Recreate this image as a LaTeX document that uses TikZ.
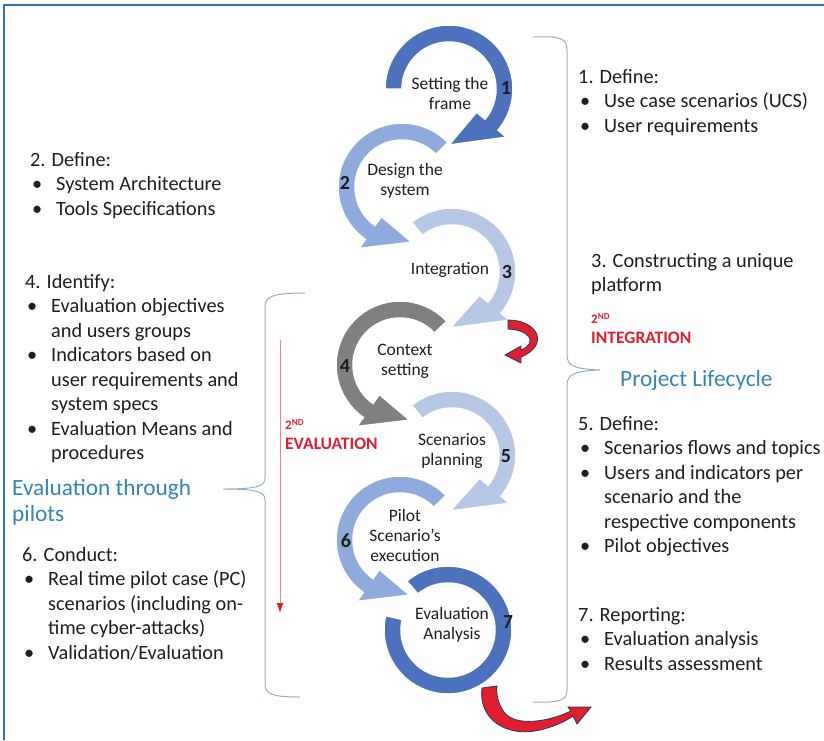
\documentclass[tikz,border=0pt]{standalone}
\usepackage{fontspec}
\setmainfont{Carlito}
\usetikzlibrary{arrows.meta}

\definecolor{cycdark}{RGB}{76,114,190}
\definecolor{cyclight}{RGB}{143,170,220}
\definecolor{cycpale}{RGB}{182,200,230}
\definecolor{cycgray}{RGB}{128,128,128}
\definecolor{bracecol}{RGB}{150,175,200}
\definecolor{framecol}{RGB}{46,117,182}
\definecolor{titlecol}{RGB}{52,132,182}
\definecolor{alertred}{RGB}{224,30,45}
\definecolor{txtcol}{RGB}{30,30,30}

\tikzset{
  ring/.style={draw=white, line width=1.5pt},
  steptxt/.style={font=\fontsize{17.5}{20}\selectfont, align=center, text=txtcol},
  stepnum/.style={font=\fontsize{20}{24}\selectfont\bfseries, text=txtcol},
  listtxt/.style={font=\fontsize{20.3}{24.5}\selectfont, align=left, anchor=north west, inner sep=0pt, text=txtcol},
  headtxt/.style={font=\fontsize{23.3}{26}\selectfont, align=left, anchor=north west, inner sep=0pt, text=titlecol},
  redlabel/.style={font=\fontsize{17.5}{20}\selectfont\bfseries, align=left, anchor=north west, inner sep=0pt, text=alertred},
  brace/.style={draw=bracecol, line width=1pt},
  twirl/.style={fill=alertred, draw=cycdark!50!black, line width=0.8pt},
}
\newcommand{\itm}{\makebox[26pt][l]{\hspace{2pt}\textbullet}}
\newcommand{\indt}{\hspace*{26pt}}

\begin{document}
\begin{tikzpicture}[x=1pt, y=1pt]
    \useasboundingbox (0,0) rectangle (824,-740);

    % Frame
    \draw[framecol, line width=2pt] (4,-740) -- (4,-5) -- (824,-5);

    % Last ring, no head
    \fill[ring, fill=cycdark, shift={(448,-630)}] (130:64) arc[start angle=130, end angle=-193, radius=64]
        -- (-193:47) arc[start angle=-193, end angle=130, radius=47] -- cycle;

    % Circular arrows, from the bottom up so each head covers the next tail
    \foreach \cx/\cy/\ta/\hb/\tp/\col in {
        400/-540/44/235/280/cyclight,
        452/-455/129/-40/-92/cycpale,
        400/-365/43/235/280/cycgray,
        452/-272/129/-40/-92/cycpale,
        402/-187/44/235/280/cyclight,
        449/-89/180/-40/-90/cycdark}
      \fill[ring, fill=\col, shift={(\cx,\cy)}] (\ta:64) arc[start angle=\ta, end angle=\hb, radius=64]
          -- (\hb:75) -- (\tp:56) -- (\hb:36) -- (\hb:47)
          arc[start angle=\hb, end angle=\ta, radius=47] -- cycle;

    % Step texts
    \node[steptxt] (frame) at (450,-93) {Setting the\\frame};
    \node[steptxt] (design) at (405,-181) {Design the\\system};
    \node[steptxt] (integ) at (450,-270) {Integration};
    \node[steptxt] (context) at (405,-361) {Context\\setting};
    \node[steptxt] (scen) at (452,-451) {Scenarios\\planning};
    \node[steptxt] (pilot) at (405,-535) {Pilot\\Scenario's\\execution};
    \node[steptxt] (evalan) at (452,-625) {Evaluation\\Analysis};

    % Step numbers
    \node[stepnum] (n1) at (506,-88) {1};
    \node[stepnum] (n2) at (345,-183) {2};
    \node[stepnum] (n3) at (507,-272) {3};
    \node[stepnum] (n4) at (345,-366) {4};
    \node[stepnum] (n5) at (506,-456) {5};
    \node[stepnum] (n6) at (346,-541) {6};
    \node[stepnum] (n7) at (508,-622) {7};

    % Red twisted arrows
    \filldraw[twirl] (508,-320) .. controls (538,-320) and (550,-345) .. (521,-357)
        -- (521,-363) -- (505,-355) -- (521,-346) -- (521,-350)
        .. controls (538,-343) and (530,-330) .. (508,-329) -- cycle;
    \filldraw[twirl] (482,-688) .. controls (478,-718) and (505,-738) .. (540,-730)
        .. controls (556,-726) and (566,-721) .. (573,-716)
        -- (577,-724) -- (591,-707) -- (568,-707) -- (571,-711)
        .. controls (548,-722) and (515,-727) .. (504,-712)
        .. controls (498,-703) and (496,-695) .. (497,-686) -- cycle;

    % Braces
    \draw[brace] (533,-37) .. controls (560,-36) and (567,-38) .. (567,-50) -- (567,-355)
        .. controls (567,-366) and (575,-369) .. (600,-370)
        .. controls (575,-371) and (567,-374) .. (567,-385) -- (567,-690)
        .. controls (567,-700) and (560,-703) .. (533,-702);
    \draw[brace] (305,-293) .. controls (275,-293) and (265,-296) .. (265,-306) -- (265,-478)
        .. controls (265,-486) and (258,-489) .. (223,-489)
        .. controls (258,-489) and (265,-492) .. (265,-500) -- (265,-684)
        .. controls (265,-694) and (272,-697) .. (300,-697);

    % Evaluation direction
    \coordinate (evtop) at (280,-340);
    \coordinate (evbot) at (280,-613);
    \draw[alertred!55, line width=1pt, -{Latex[length=10pt, width=7pt, color=alertred]}] (evtop) -- (evbot);
    \node[redlabel] (eval2) at (285,-419) {{\fontsize{13}{20}\selectfont 2\textsuperscript{ND}}\\EVALUATION};
    \node[redlabel] (integ2) at (591,-313) {{\fontsize{13}{20}\selectfont 2\textsuperscript{ND}}\\INTEGRATION};

    % Right column
    \node[listtxt] (def1) at (578,-69) {1. Define:\\\itm Use case scenarios (UCS)\\\itm User requirements};
    \node[listtxt] (def3) at (591,-253) {3. Constructing a unique\\platform};
    \node[headtxt] (lifecycle) at (620,-370) {Project Lifecycle};
    \node[listtxt] (def5) at (578,-416) {5. Define:\\\itm Scenarios flows and topics\\\itm Users and indicators per\\\indt scenario and the\\\indt respective components\\\itm Pilot objectives};
    \node[listtxt] (rep7) at (578,-607) {7. Reporting:\\\itm Evaluation analysis\\\itm Results assessment};

    % Left column
    \node[listtxt] (def2) at (30,-152) {2. Define:\\\itm System Architecture\\\itm Tools Specifications};
    \node[listtxt] (ident4) at (25,-274) {4. Identify:\\\itm Evaluation objectives\\\indt and users groups\\\itm Indicators based on\\\indt user requirements and\\\indt system specs\\\itm Evaluation Means and\\\indt procedures};
    \node[headtxt] (evalpil) at (12,-479) {Evaluation through\\pilots};
    \node[listtxt] (cond6) at (22,-547) {6. Conduct:\\\itm Real time pilot case (PC)\\\indt scenarios (including on-\\\indt time cyber-attacks)\\\itm Validation/Evaluation};
\end{tikzpicture}
\end{document}
